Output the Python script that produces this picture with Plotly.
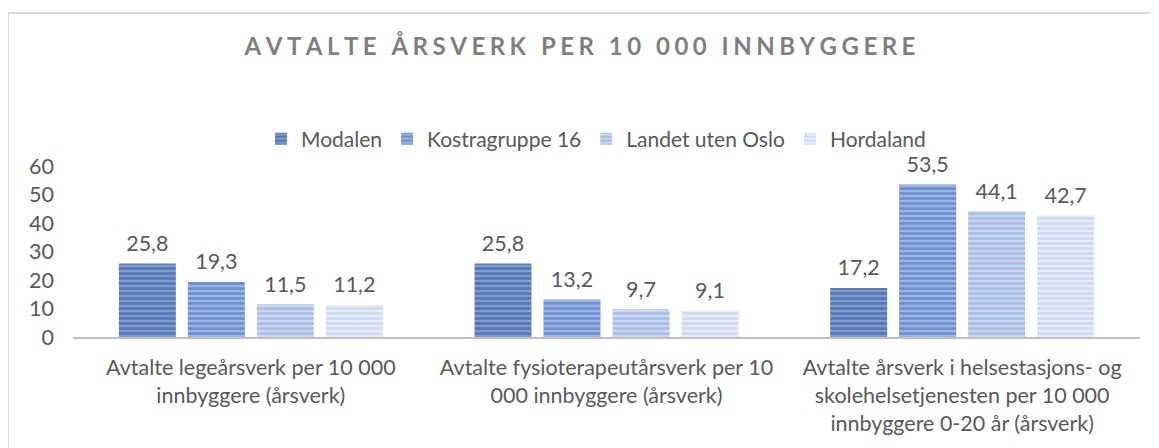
import plotly.graph_objects as go

# chart data
categories = [
    "Avtalte legeårsverk per 10 000<br>innbyggere (årsverk)",
    "Avtalte fysioterapeutårsverk per 10<br>000 innbyggere (årsverk)",
    "Avtalte årsverk i helsestasjons- og<br>skolehelsetjenesten per 10 000<br>innbyggere 0-20 år (årsverk)",
]
series_names = ["Modalen", "Kostragruppe 16", "Landet uten Oslo", "Hordaland"]
modalen = [25.8, 25.8, 17.2]
kostra16 = [19.3, 13.2, 53.5]
landet_uten_oslo = [11.5, 9.7, 44.1]
hordaland = [11.2, 9.1, 42.7]
y_ticks = [0, 10, 20, 30, 40, 50, 60]
title_text = "AVTALTE ÅRSVERK PER 10 000 INNBYGGERE"

series_values = [modalen, kostra16, landet_uten_oslo, hordaland]
# (line colour, background colour) for the striped fills
colors = [
    ("#2E5597", "#7F9BD0"),
    ("#3F6BC0", "#9DB5E3"),
    ("#8CA6DC", "#CBD7F0"),
    ("#BCCAEC", "#E6ECF8"),
]

FONT = "Lato"
TXT = "#595959"
FS = 21.5

# letter-spaced title (thin + hair spaces between letters)
spaced_title = "\u2009\u200a".join(title_text)

fig = go.Figure()

for i, (name, vals, (fg, bg)) in enumerate(zip(series_names, series_values, colors)):
    fig.add_trace(
        go.Bar(
            x=categories,
            y=vals,
            name=name,
            offsetgroup=str(i),
            marker=dict(
                color=bg,
                line=dict(width=0),
                pattern=dict(shape="-", fgcolor=fg, bgcolor=bg, size=5, solidity=0.55),
            ),
        )
    )

# value labels as invisible scatter points so there is some air above the bars
for i, vals in enumerate(series_values):
    fig.add_trace(
        go.Scatter(
            x=categories,
            y=vals,
            offsetgroup=str(i),
            mode="markers+text",
            marker=dict(size=10, opacity=0),
            text=[f"{v:.1f}".replace(".", ",") for v in vals],
            textposition="top center",
            textfont=dict(size=FS, color=TXT, family=FONT),
            cliponaxis=False,
            showlegend=False,
            hoverinfo="skip",
        )
    )

# page body adds 8px offset, margins compensate for it
fig.update_layout(
    width=1159,
    height=448,
    barmode="group",
    scattermode="group",
    bargap=0.224,
    scattergap=0.224,
    bargroupgap=0.174,
    paper_bgcolor="white",
    plot_bgcolor="white",
    margin=dict(l=65, r=27, t=158, b=119, autoexpand=False),
    font=dict(family=FONT, size=FS, color=TXT),
    title=dict(
        text="<b>" + spaced_title + "</b>",
        x=(580 - 8) / 1159,
        xanchor="center",
        y=1 - 39 / 448,
        yanchor="middle",
        yref="container",
        font=dict(size=24, color="#7F7F7F", family=FONT),
    ),
    legend=dict(
        orientation="h",
        x=(596 - 73) / 1067,
        xanchor="center",
        y=(337 - 139) / 171,
        yanchor="middle",
        bgcolor="rgba(0,0,0,0)",
        font=dict(size=21, color=TXT, family=FONT),
        traceorder="normal",
    ),
)

fig.update_xaxes(
    automargin=False,
    showline=True,
    linecolor="#BFBFBF",
    linewidth=2,
    showgrid=False,
    ticks="",
    ticklabelstandoff=10,
    tickfont=dict(size=FS, color=TXT, family=FONT),
)
fig.update_yaxes(
    automargin=False,
    range=[0, 60],
    tickvals=y_ticks,
    showgrid=False,
    zeroline=False,
    showline=False,
    ticklabelstandoff=18,
    tickfont=dict(size=FS, color=TXT, family=FONT),
)

# outer chart border (top/left visible)
fig.add_shape(
    type="rect",
    xref="paper", yref="paper",
    x0=-65 / 1067, x1=1.05, y0=-0.8, y1=(337 - 13) / 171,
    line=dict(color="#D9D9D9", width=2),
    fillcolor="rgba(0,0,0,0)",
    layer="below",
)

fig.write_html("out.html")
